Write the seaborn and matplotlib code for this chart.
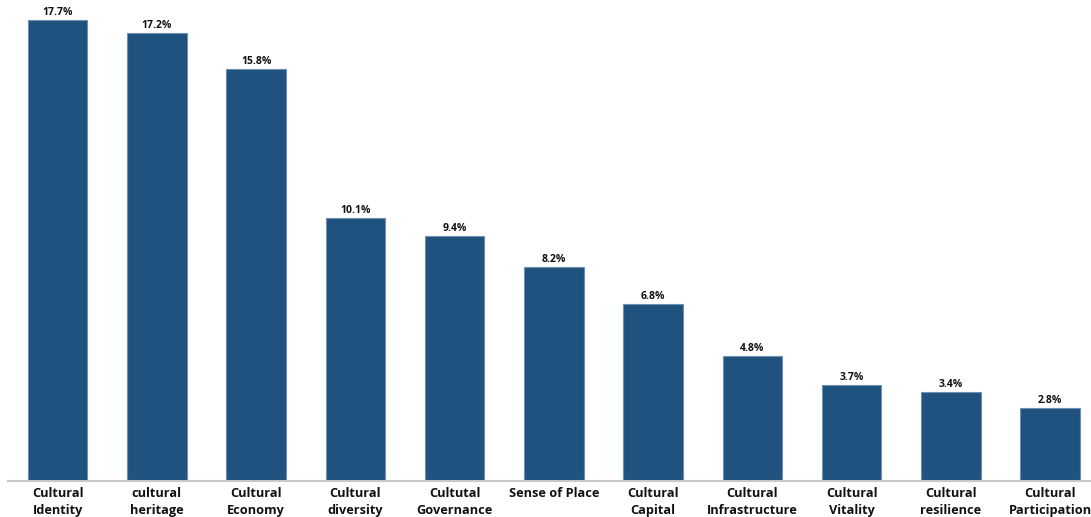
import matplotlib.pyplot as plt
import seaborn as sns
import pandas as pd

categories = [
	'Cultural\nIdentity',
	'cultural\nheritage',
	'Cultural\nEconomy',
	'Cultural\ndiversity',
	'Cultutal\nGovernance',
	'Sense of Place',
	'Cultural\nCapital',
	'Cultural\nInfrastructure',
	'Cultural\nVitality',
	'Cultural\nresilience',
	'Cultural\nParticipation',
]
shares = [17.7, 17.2, 15.8, 10.1, 9.4, 8.2, 6.8, 4.8, 3.7, 3.4, 2.8]

df = pd.DataFrame({'category': categories, 'share': shares})

sns.set_style('white')
plt.rcParams['font.family'] = ['Open Sans', 'DejaVu Sans']

fig = plt.figure(figsize=(10.91, 5.17), dpi=100)
ax = fig.add_axes([8 / 1091, 36 / 517, 1083 / 1091, 481 / 517])

sns.barplot(
	data=df, x='category', y='share', order=categories,
	color='#1f527f', saturation=1, width=0.6,
	edgecolor='#6f8fb0', linewidth=0.8, ax=ax,
)

for i, v in enumerate(shares):
	ax.annotate(
		f'{v}%', (i, v), xytext=(0, 1.5), textcoords='offset points',
		ha='center', va='bottom', fontsize=7.5, fontweight='bold', color='#111111',
	)

ax.set_xlim(-0.5, 10.5 - 8.6 / 99.2)
ax.set_ylim(0, 481 / 26.05)
ax.set_xlabel('')
ax.set_ylabel('')
ax.set_yticks([])
ax.tick_params(axis='x', length=0, pad=4)
for lab in ax.get_xticklabels():
	lab.set_fontweight('bold')
	lab.set_fontsize(9.2)
	lab.set_color('#111111')
	lab.set_linespacing(1.4)

for side in ['top', 'right', 'left']:
	ax.spines[side].set_visible(False)
ax.spines['bottom'].set_color('#c8c8c8')
ax.spines['bottom'].set_linewidth(1.5)

plt.savefig('out.png', dpi=100)
plt.close()
